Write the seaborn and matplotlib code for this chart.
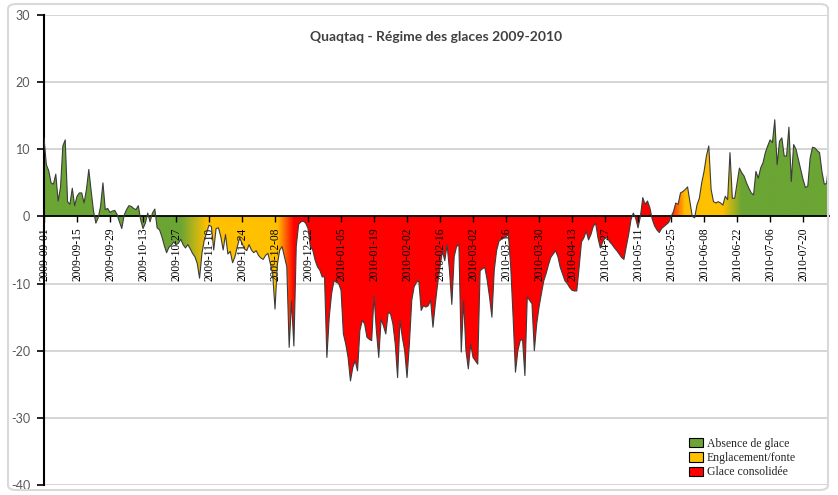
import numpy as np
import pandas as pd
import matplotlib
matplotlib.use("Agg")
import matplotlib.pyplot as plt
import matplotlib.dates as mdates
from matplotlib.colors import to_rgb
from matplotlib.patches import Patch, PathPatch, FancyBboxPatch
from matplotlib.path import Path
from matplotlib.ticker import FixedLocator, FixedFormatter
import seaborn as sns

# Daily mean air temperature at Quaqtaq (°C), starting 2009-09-01
start_date = "2009-09-01"
temperature = [
    11.7, 7.7, 6.8, 5.0, 4.8, 6.3, 2.3, 4.3, 10.5, 11.4,
    2.2, 1.8, 4.2, 1.6, 3.0, 3.5, 3.5, 2.0, 4.0, 7.0,
    3.8, 0.8, -1.0, -0.2, 1.5, 5.0, 1.0, 1.2, 0.6, 0.8,
    0.9, 0.3, -0.8, -1.8, 0.2, 1.0, 1.6, 1.5, 1.2, 1.0,
    1.6, -0.5, -1.8, -1.0, 0.5, -0.8, 0.5, 1.1, -1.7, -2.0,
    -3.0, -4.3, -5.4, -4.6, -4.3, -3.8, -4.2, -4.0, -3.4, -4.2,
    -4.7, -4.2, -4.8, -5.5, -6.0, -7.0, -9.2, -5.5, -3.5, -2.4,
    -1.3, -1.5, -5.0, -1.8, -1.7, -3.0, -5.0, -2.7, -5.6, -5.2,
    -6.9, -6.0, -4.5, -3.2, -4.0, -4.8, -5.1, -4.2, -5.0, -5.4,
    -5.1, -5.8, -6.2, -6.4, -5.8, -5.5, -7.0, -8.5, -13.8, -7.1,
    -5.0, -4.5, -6.0, -7.5, -19.5, -12.6, -19.3, -4.5, -1.2, -0.8,
    -0.7, -1.0, -1.8, -4.5, -5.0, -6.5, -7.5, -8.0, -9.0, -9.0,
    -21.0, -15.0, -11.5, -9.6, -9.8, -10.0, -11.0, -17.5, -19.0, -21.0,
    -24.5, -22.5, -21.5, -23.0, -17.0, -15.5, -16.0, -18.0, -18.3, -18.5,
    -11.8, -17.0, -21.0, -15.3, -16.3, -17.5, -14.3, -14.5, -16.0, -19.0,
    -24.0, -15.5, -18.0, -20.0, -24.0, -19.0, -12.5, -10.5, -9.8, -9.6,
    -14.0, -13.3, -13.5, -13.3, -12.5, -16.5, -13.0, -10.0, -7.6, -5.1,
    -6.6, -4.2, -8.0, -13.1, -6.0, -4.5, -4.2, -20.2, -12.6, -20.0,
    -22.7, -19.0, -21.0, -21.5, -22.0, -8.1, -7.8, -7.6, -9.5, -12.0,
    -15.0, -8.0, -5.1, -3.7, -3.4, -3.2, -3.0, -2.7, -7.6, -15.0,
    -23.2, -20.0, -18.5, -18.3, -23.7, -12.0, -12.5, -13.0, -20.0, -16.0,
    -13.5, -11.5, -9.6, -8.5, -7.2, -6.1, -5.6, -5.1, -6.0, -7.6,
    -8.6, -9.6, -10.0, -10.6, -11.0, -11.1, -11.1, -7.6, -3.8, -3.2,
    -2.2, -3.5, -2.7, -1.5, -1.0, -3.2, -4.7, -3.8, -3.2, -3.2,
    -3.8, -4.2, -4.7, -5.1, -5.6, -6.1, -6.4, -4.5, -2.7, -0.5,
    0.5, -0.3, -1.7, 0.0, 2.8, 1.8, 2.3, 1.3, -0.4, -1.4,
    -2.0, -2.4, -1.8, -1.5, -1.2, -0.9, 0.0, 0.7, 2.0, 1.8,
    3.5, 3.7, 4.0, 4.4, 2.2, 0.0, -0.2, 1.7, 2.7, 5.0,
    6.7, 9.0, 10.5, 4.0, 2.2, 2.0, 2.2, 2.0, 1.7, 3.0,
    2.5, 9.5, 2.7, 2.7, 5.0, 7.2, 6.5, 6.0, 5.0, 4.2,
    3.5, 3.2, 6.7, 5.7, 7.2, 8.0, 9.5, 10.5, 11.4, 11.0,
    14.4, 7.7, 11.2, 11.7, 9.0, 9.0, 13.3, 5.2, 10.7, 10.0,
    8.5, 7.0, 5.5, 4.3, 4.5, 8.7, 10.3, 10.2, 9.8, 9.5,
    6.7, 4.8, 4.9, 8.5,
]

# Ice regimes and their colours
regime_names = ["Absence de glace", "Englacement/fonte", "Glace consolidée"]
regime_colors = ["#6BA534", "#FFC000", "#FF0000"]

# Dates where each phase colour is fully established (colour blends in between)
phase_dates = ["2009-09-01", "2009-10-29", "2009-11-09", "2009-12-09", "2009-12-16",
               "2010-05-24", "2010-05-31", "2010-06-16", "2010-06-24", "2010-07-31"]
phase_regime = [0, 0, 1, 1, 2, 2, 1, 1, 0, 0]

tick_labels = ["2009-09-01", "2009-09-15", "2009-09-29", "2009-10-13", "2009-10-27",
               "2009-11-10", "2009-11-24", "2009-12-08", "2009-12-22", "2010-01-05",
               "2010-01-19", "2010-02-02", "2010-02-16", "2010-03-02", "2010-03-16",
               "2010-03-30", "2010-04-13", "2010-04-27", "2010-05-11", "2010-05-25",
               "2010-06-08", "2010-06-22", "2010-07-06", "2010-07-20"]
y_ticks = [-40, -30, -20, -10, 0, 10, 20, 30]

title = "Quaqtaq - Régime des glaces 2009-2010"

df = pd.DataFrame({
    "date": pd.date_range(start_date, periods=len(temperature), freq="D"),
    "temp": temperature,
})

sns.set_style("white")
plt.rcParams["axes.unicode_minus"] = False
plt.rcParams["font.family"] = ["Lato", "DejaVu Sans"]

W, H = 838, 495
fig = plt.figure(figsize=(W / 100, H / 100), dpi=100)
ax = fig.add_axes([44 / W, 1 - 485 / H, (829 - 44) / W, (485 - 15) / H])

x_num = mdates.date2num(df["date"])
y_val = df["temp"].to_numpy()

# Area between the curve and zero, used as a clip shape for the colour band
verts = np.concatenate([np.column_stack([x_num, y_val]),
                        np.column_stack([x_num[::-1], np.zeros_like(x_num)])])
area = PathPatch(Path(verts), transform=ax.transData, facecolor="none",
                 edgecolor="none")
ax.add_patch(area)

# Horizontal colour band following the ice phases
grid_x = np.linspace(x_num[0], x_num[-1], 1500)
stop_x = mdates.date2num(pd.to_datetime(phase_dates))
stop_rgb = np.array([to_rgb(regime_colors[r]) for r in phase_regime])
band = np.stack([np.interp(grid_x, stop_x, stop_rgb[:, c]) for c in range(3)], axis=-1)
band = np.repeat(band[np.newaxis, :, :], 2, axis=0)
img = ax.imshow(band, extent=[x_num[0], x_num[-1], -40, 30], aspect="auto",
                interpolation="bilinear", origin="lower", zorder=2)
img.set_clip_path(area)

# Curve outline
sns.lineplot(data=df, x="date", y="temp", ax=ax, color="#3c3c3c", linewidth=0.8,
             zorder=3)

# Horizontal grid
for yv in y_ticks:
    if yv != 0:
        ax.axhline(yv, color="#d2d2d2", linewidth=1.3, zorder=0)

ax.set_xlim(x_num[0], x_num[-1])
ax.set_ylim(-40, 30)
ax.set_xlabel("")
ax.set_ylabel("")

ax.yaxis.set_major_locator(FixedLocator(y_ticks))
ax.yaxis.set_major_formatter(FixedFormatter([str(v) for v in y_ticks]))
ax.tick_params(axis="y", direction="out", length=5, width=1.2, pad=5,
               labelsize=9, labelcolor="#595959", color="black", left=True)

tick_pos = mdates.date2num(pd.to_datetime(tick_labels))
ax.xaxis.set_major_locator(FixedLocator(tick_pos))
ax.xaxis.set_major_formatter(FixedFormatter(tick_labels))
ax.tick_params(axis="x", direction="out", length=4, width=1, pad=4,
               color="black", bottom=True, labelrotation=90, labelsize=8.3,
               labelcolor="black", labelfontfamily="Liberation Serif")

for side in ("top", "right"):
    ax.spines[side].set_visible(False)
ax.spines["left"].set_color("black")
ax.spines["left"].set_linewidth(1.5)
ax.spines["bottom"].set_position(("data", 0))
ax.spines["bottom"].set_color("black")
ax.spines["bottom"].set_linewidth(1.3)
ax.set_axisbelow(False)
ax.patch.set_alpha(0)

# Title
fig.text(436 / W, 1 - 37 / H, title, ha="center", va="center", fontsize=10,
         fontweight="bold", color="#404040", fontfamily="Lato")

# Legend
handles = [Patch(facecolor=c, edgecolor="black", linewidth=0.8) for c in regime_colors]
fig.legend(handles, regime_names, loc="upper left",
           bbox_to_anchor=(684 / W, 1 - 433 / H), frameon=False,
           handlelength=1.2, handleheight=0.85, handletextpad=0.35,
           labelspacing=0.2, borderaxespad=0,
           prop={"family": "Liberation Serif", "size": 8.5})

# Chart frame
frame = FancyBboxPatch((8 / W, 5 / H), (W - 10) / W - 8 / W, (H - 4) / H - 5 / H,
                       boxstyle="round,pad=0,rounding_size=0.01",
                       transform=fig.transFigure, facecolor="none",
                       edgecolor="#d9d9d9", linewidth=1.5, zorder=0)
fig.patches.append(frame)

fig.savefig("out.png", dpi=100)
